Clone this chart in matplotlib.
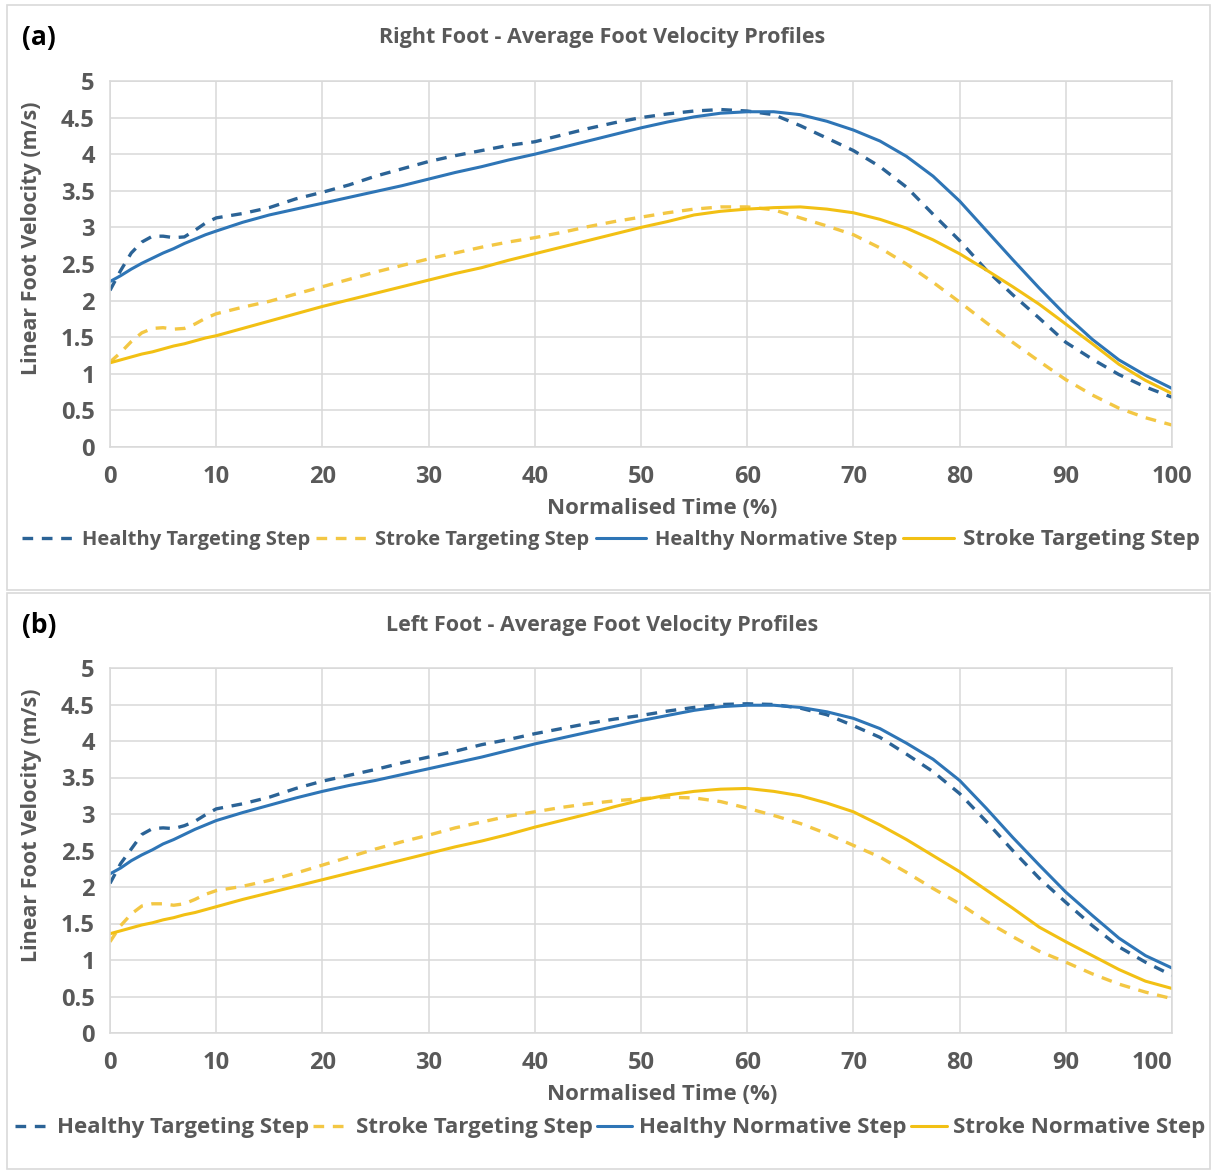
import matplotlib.pyplot as plt
from matplotlib.patches import Rectangle

plt.rcParams['font.family'] = ['Open Sans', 'DejaVu Sans']
plt.rcParams['font.weight'] = 'bold'
plt.rcParams['axes.labelweight'] = 'bold'

# normalised time samples (%)
time_pct = [0, 1, 2, 3, 4, 5, 6, 7, 8, 9, 10,
            12.5, 15, 17.5, 20, 22.5, 25, 27.5, 30, 32.5, 35, 37.5, 40,
            42.5, 45, 47.5, 50, 52.5, 55, 57.5, 60, 62.5, 65, 67.5, 70,
            72.5, 75, 77.5, 80, 82.5, 85, 87.5, 90, 92.5, 95, 97.5, 100]

# right foot velocities (m/s)
right_healthy_target = [2.14, 2.41, 2.65, 2.80, 2.88, 2.88, 2.86, 2.87, 2.96, 3.06, 3.13,
                        3.19, 3.27, 3.39, 3.48, 3.58, 3.70, 3.80, 3.90, 3.98, 4.05, 4.12, 4.17,
                        4.26, 4.35, 4.43, 4.50, 4.55, 4.59, 4.61, 4.59, 4.54, 4.39, 4.22, 4.05,
                        3.83, 3.55, 3.18, 2.82, 2.42, 2.08, 1.76, 1.43, 1.20, 0.99, 0.82, 0.68]
right_stroke_target = [1.16, 1.29, 1.44, 1.56, 1.62, 1.63, 1.61, 1.62, 1.68, 1.76, 1.82,
                       1.91, 1.99, 2.09, 2.19, 2.29, 2.39, 2.48, 2.57, 2.65, 2.73, 2.80, 2.86,
                       2.93, 3.01, 3.08, 3.14, 3.20, 3.25, 3.28, 3.28, 3.24, 3.13, 3.02, 2.90,
                       2.72, 2.50, 2.25, 1.98, 1.70, 1.43, 1.17, 0.92, 0.71, 0.53, 0.40, 0.30]
right_healthy_norm = [2.26, 2.34, 2.43, 2.51, 2.58, 2.65, 2.71, 2.78, 2.84, 2.90, 2.95,
                      3.07, 3.17, 3.25, 3.33, 3.41, 3.49, 3.57, 3.66, 3.75, 3.83, 3.92, 4.00,
                      4.09, 4.18, 4.27, 4.36, 4.44, 4.51, 4.56, 4.58, 4.58, 4.54, 4.45, 4.33,
                      4.18, 3.97, 3.70, 3.36, 2.96, 2.56, 2.17, 1.80, 1.47, 1.19, 0.98, 0.80]
right_stroke_norm = [1.15, 1.19, 1.23, 1.27, 1.30, 1.34, 1.38, 1.41, 1.45, 1.49, 1.52,
                     1.62, 1.72, 1.82, 1.92, 2.01, 2.10, 2.19, 2.28, 2.37, 2.45, 2.55, 2.64,
                     2.73, 2.82, 2.91, 3.00, 3.08, 3.17, 3.22, 3.25, 3.27, 3.28, 3.25, 3.20,
                     3.11, 2.99, 2.83, 2.64, 2.42, 2.19, 1.95, 1.68, 1.41, 1.13, 0.91, 0.73]

# left foot velocities (m/s)
left_healthy_target = [2.05, 2.32, 2.52, 2.72, 2.80, 2.81, 2.80, 2.84, 2.90, 2.99, 3.07,
                       3.14, 3.23, 3.35, 3.45, 3.53, 3.61, 3.70, 3.78, 3.86, 3.95, 4.02, 4.10,
                       4.17, 4.24, 4.30, 4.35, 4.41, 4.46, 4.50, 4.51, 4.50, 4.45, 4.36, 4.21,
                       4.05, 3.82, 3.58, 3.28, 2.90, 2.50, 2.12, 1.79, 1.47, 1.18, 0.97, 0.79]
left_stroke_target = [1.25, 1.47, 1.63, 1.74, 1.77, 1.77, 1.75, 1.77, 1.83, 1.90, 1.95,
                      2.01, 2.09, 2.19, 2.30, 2.41, 2.52, 2.62, 2.71, 2.81, 2.89, 2.97, 3.03,
                      3.09, 3.14, 3.18, 3.21, 3.23, 3.22, 3.17, 3.08, 2.98, 2.87, 2.73, 2.57,
                      2.41, 2.20, 1.98, 1.77, 1.53, 1.32, 1.12, 0.97, 0.81, 0.67, 0.56, 0.47]
left_healthy_norm = [2.18, 2.26, 2.36, 2.44, 2.51, 2.59, 2.65, 2.72, 2.79, 2.85, 2.91,
                     3.02, 3.12, 3.22, 3.31, 3.39, 3.46, 3.54, 3.62, 3.70, 3.78, 3.87, 3.96,
                     4.04, 4.12, 4.20, 4.28, 4.35, 4.42, 4.47, 4.49, 4.49, 4.46, 4.40, 4.31,
                     4.17, 3.97, 3.75, 3.46, 3.08, 2.68, 2.30, 1.93, 1.61, 1.30, 1.06, 0.89]
left_stroke_norm = [1.36, 1.40, 1.44, 1.48, 1.51, 1.55, 1.58, 1.62, 1.65, 1.69, 1.73,
                    1.83, 1.92, 2.01, 2.10, 2.19, 2.28, 2.37, 2.46, 2.55, 2.63, 2.72, 2.82,
                    2.91, 3.00, 3.10, 3.19, 3.26, 3.31, 3.34, 3.35, 3.31, 3.25, 3.15, 3.03,
                    2.85, 2.65, 2.43, 2.21, 1.96, 1.71, 1.45, 1.25, 1.06, 0.87, 0.71, 0.61]

right_labels = ['Healthy Targeting Step', 'Stroke Targeting Step',
                'Healthy Normative Step', 'Stroke Targeting Step']
left_labels = ['Healthy Targeting Step', 'Stroke Targeting Step',
               'Healthy Normative Step', 'Stroke Normative Step']

x_ticks = [0, 10, 20, 30, 40, 50, 60, 70, 80, 90, 100]
y_ticks = [0, 0.5, 1, 1.5, 2, 2.5, 3, 3.5, 4, 4.5, 5]
y_tick_labels = ['0', '0.5', '1', '1.5', '2', '2.5', '3', '3.5', '4', '4.5', '5']

BLUE = '#2e75b6'
BLUE_DASH = '#2b6396'
GOLD = '#f2c014'
GOLD_DASH = '#f3c744'
GREY = '#595959'
GRID = '#d9d9d9'
DASH = (0, (3.2, 2.6))

W, H = 1215, 1171
fig = plt.figure(figsize=(W / 100, H / 100), dpi=100)

# panel frames
for top, bottom in [(5, 590), (593, 1169)]:
    fig.patches.append(Rectangle((7 / W, 1 - bottom / H), 1203 / W, (bottom - top) / H,
                                 transform=fig.transFigure, fill=False,
                                 edgecolor=GRID, lw=1.2))


def draw_panel(ax_top, ax_bottom, series, labels, title, tag, title_y, leg_y, xlab_y,
               leg_size, leg_handle, leg_pad, leg_space, leg_x):
    ax = fig.add_axes([110 / W, 1 - ax_bottom / H, 1062 / W, (ax_bottom - ax_top) / H])
    styles = [(BLUE_DASH, DASH), (GOLD_DASH, DASH), (BLUE, '-'), (GOLD, '-')]
    handles = []
    for vals, lab, (col, ls) in zip(series, labels, styles):
        h, = ax.plot(time_pct, vals, color=col, ls=ls, lw=2.2 if ls == '-' else 2.4,
                     label=lab, solid_capstyle='round')
        handles.append(h)
    ax.set_xlim(0, 100)
    ax.set_ylim(0, 5)
    ax.set_xticks(x_ticks)
    ax.set_yticks(y_ticks)
    ax.set_yticklabels(y_tick_labels)
    ax.grid(True, color=GRID, lw=1.1)
    ax.set_axisbelow(True)
    for s in ax.spines.values():
        s.set_color(GRID)
        s.set_linewidth(1.1)
    ax.tick_params(length=0, labelsize=17, colors=GREY, pad=13)
    ax.tick_params(axis='y', pad=11)
    # y label sits a little above the axis centre
    ax.set_ylabel('Linear Foot Velocity (m/s)', fontsize=15.5, color=GREY)
    ax.yaxis.set_label_coords(-68 / 1062, 0.57)
    fig.text(662 / W, 1 - xlab_y / H, 'Normalised Time (%)', fontsize=16, color=GREY,
             ha='center', va='center')
    fig.text(602 / W, 1 - title_y / H, title, fontsize=15.5, color=GREY,
             ha='center', va='center')
    fig.text(22 / W, 1 - title_y / H, tag, fontsize=19, color='black',
             ha='left', va='center')
    leg = fig.legend(handles=handles, loc='center', bbox_to_anchor=(leg_x / W, 1 - leg_y / H),
                     ncol=4, frameon=False, fontsize=leg_size, handlelength=leg_handle,
                     handletextpad=leg_pad, columnspacing=leg_space, labelcolor=GREY)
    return ax, leg


ax_a, leg_a = draw_panel(81, 447,
                         [right_healthy_target, right_stroke_target,
                          right_healthy_norm, right_stroke_norm],
                         right_labels, 'Right Foot - Average Foot Velocity Profiles', '(a)',
                         37, 540, 508, 14.5, 2.5, 0.45, 0.3, 611)
leg_a.get_texts()[3].set_fontsize(16)

ax_b, leg_b = draw_panel(668, 1033,
                         [left_healthy_target, left_stroke_target,
                          left_healthy_norm, left_stroke_norm],
                         left_labels, 'Left Foot - Average Foot Velocity Profiles', '(b)',
                         625, 1128, 1094, 16, 1.6, 0.3, 0.2, 610)
ax_b.get_xticklabels()[-1].set_horizontalalignment('right')

fig.savefig('out.png', dpi=100)
